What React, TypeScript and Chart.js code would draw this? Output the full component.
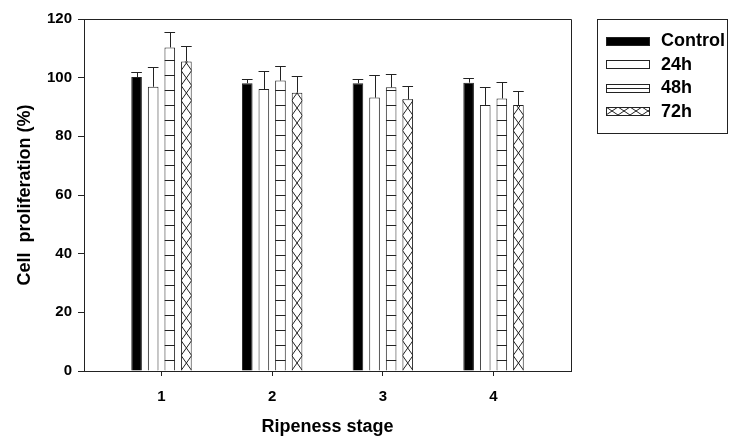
import React, { useEffect, useRef } from "react";
import { Chart, registerables } from "chart.js";

Chart.register(...registerables);

const stageLabels = ["1", "2", "3", "4"];
const stageX = [1, 2, 3, 4];
const seriesNames = ["Control", "24h", "48h", "72h"];
const controlMean = [100.2, 98.1, 98.1, 98.3];
const controlErr = [1.6, 1.4, 1.4, 1.5];
const h24Mean = [96.9, 96.1, 93.2, 90.7];
const h24Err = [6.8, 6.3, 7.7, 6.2];
const h48Mean = [110.3, 99.0, 96.7, 92.9];
const h48Err = [5.4, 4.9, 4.5, 5.7];
const h72Mean = [105.5, 94.9, 92.6, 90.7];
const h72Err = [5.4, 5.8, 4.7, 4.8];
const yTicks = [0, 20, 40, 60, 80, 100, 120];

const means = [controlMean, h24Mean, h48Mean, h72Mean];
const errs = [controlErr, h24Err, h48Err, h72Err];
const kinds = ["solid", "open", "hlines", "cross"];

const FONT = '"Liberation Sans", Arial, sans-serif';
const INK = "#222";

function drawFill(ctx: CanvasRenderingContext2D, kind: string, l: number, t: number, w: number, h: number, legend: boolean) {
  const r = l + w;
  const b = t + h;
  ctx.save();
  ctx.beginPath();
  ctx.rect(l, t, w, h);
  ctx.clip();
  ctx.strokeStyle = INK;
  ctx.lineWidth = 1;
  if (kind === "hlines") {
    ctx.beginPath();
    if (legend) {
      const ym = Math.round(t + h / 2) + 0.5;
      ctx.moveTo(l, ym);
      ctx.lineTo(r, ym);
    } else {
      for (let y = b - 11; y > t; y -= 15) {
        const yy = Math.round(y) + 0.5;
        ctx.moveTo(l, yy);
        ctx.lineTo(r, yy);
      }
    }
    ctx.stroke();
  } else if (kind === "cross") {
    ctx.beginPath();
    if (legend) {
      const tw = 12;
      for (let x = l; x < r; x += tw) {
        ctx.moveTo(x, t);
        ctx.lineTo(x + tw, b);
        ctx.moveTo(x + tw, t);
        ctx.lineTo(x, b);
      }
    } else {
      const th = 15;
      for (let y = b; y > t - th; y -= th) {
        ctx.moveTo(l, y);
        ctx.lineTo(r, y - th);
        ctx.moveTo(r, y);
        ctx.lineTo(l, y - th);
      }
    }
    ctx.stroke();
  }
  ctx.restore();
}

const overlayPlugin = {
  id: "overlay",
  afterDatasetsDraw(chart: any) {
    const ctx = chart.ctx as CanvasRenderingContext2D;
    const yScale = chart.scales.y;
    chart.data.datasets.forEach((ds: any, di: number) => {
      const meta = chart.getDatasetMeta(di);
      meta.data.forEach((bar: any, i: number) => {
        const { x, y, base, width } = bar.getProps(["x", "y", "base", "width"], true);
        const l = x - width / 2;
        drawFill(ctx, kinds[di], l, y, width, base - y, false);
        // error bar (upper)
        const top = yScale.getPixelForValue(means[di][i] + errs[di][i]);
        const cx = Math.round(x) + 0.5;
        const ty = Math.round(top) + 0.5;
        ctx.save();
        ctx.strokeStyle = INK;
        ctx.lineWidth = 1;
        ctx.beginPath();
        ctx.moveTo(cx, y);
        ctx.lineTo(cx, ty);
        ctx.moveTo(l, ty);
        ctx.lineTo(l + width, ty);
        ctx.stroke();
        ctx.restore();
      });
    });
  },
  afterDraw(chart: any) {
    const ctx = chart.ctx as CanvasRenderingContext2D;
    const a = chart.chartArea;
    ctx.save();
    ctx.strokeStyle = INK;
    ctx.lineWidth = 1;
    // frame top & right
    ctx.beginPath();
    ctx.moveTo(Math.round(a.left), Math.round(a.top) + 0.5);
    ctx.lineTo(Math.round(a.right) + 0.5, Math.round(a.top) + 0.5);
    ctx.lineTo(Math.round(a.right) + 0.5, Math.round(a.bottom));
    ctx.stroke();
    // legend box
    const bx = a.right + 26;
    const by = a.top;
    ctx.strokeRect(bx + 0.5, by + 0.5, 130, 114);
    ctx.font = "bold 18px " + FONT;
    ctx.textBaseline = "middle";
    ctx.fillStyle = "#000";
    chart.data.datasets.forEach((ds: any, di: number) => {
      const cy = by + 21.5 + di * 23.5;
      const sl = bx + 9;
      const st = Math.round(cy - 4);
      const sw = 43;
      const sh = 8;
      ctx.fillStyle = di === 0 ? "#000" : "#fff";
      ctx.fillRect(sl, st, sw, sh);
      drawFill(ctx, kinds[di], sl, st, sw, sh, true);
      ctx.strokeStyle = INK;
      ctx.strokeRect(sl + 0.5, st + 0.5, sw, sh);
      ctx.fillStyle = "#000";
      ctx.fillText(ds.label, bx + 64, cy + 1);
    });
    ctx.restore();
  },
};

export default function App() {
  const ref = useRef<HTMLCanvasElement | null>(null);
  useEffect(() => {
    document.body.style.margin = "0";
    const canvas = ref.current;
    if (!canvas) return;
    const datasets = seriesNames.map((name, di) => ({
      label: name,
      data: stageX.map((x, i) => ({ x, y: means[di][i] })),
      backgroundColor: di === 0 ? "#000" : "#fff",
      borderColor: INK,
      borderWidth: 1,
      categoryPercentage: 0.6,
      barPercentage: 0.64,
    }));
    const chart = new Chart(canvas, {
      type: "bar",
      data: { datasets },
      plugins: [overlayPlugin],
      options: {
        animation: false,
        responsive: true,
        maintainAspectRatio: false,
        layout: { padding: { top: 19, right: 161, left: 0, bottom: 0 } },
        plugins: { legend: { display: false }, tooltip: { enabled: false } },
        scales: {
          x: {
            type: "linear",
            min: 0.3,
            max: 4.7,
            offset: false,
            afterBuildTicks: (scale: any) => {
              scale.ticks = stageX.map((v) => ({ value: v }));
            },
            afterFit: (scale: any) => {
              scale.height = 65;
            },
            grid: { drawOnChartArea: false, offset: false, tickLength: 5, color: INK },
            border: { color: INK },
            ticks: {
              color: "#000",
              padding: 12,
              font: { family: FONT, size: 15, weight: "bold" },
              callback: (v: any) => stageLabels[stageX.indexOf(Number(v))] ?? "",
            },
            title: {
              display: true,
              text: "Ripeness stage",
              color: "#000",
              font: { family: FONT, size: 18, weight: "bold" },
              padding: { top: 0, bottom: -2 },
            },
          },
          y: {
            min: 0,
            max: 120,
            afterBuildTicks: (scale: any) => {
              scale.ticks = yTicks.map((v) => ({ value: v }));
            },
            afterFit: (scale: any) => {
              scale.width = 84;
            },
            grid: { drawOnChartArea: false, tickLength: 6, color: INK },
            border: { color: INK },
            ticks: {
              color: "#000",
              padding: 6,
              font: { family: FONT, size: 15, weight: "bold" },
            },
            title: {
              display: true,
              text: "Cell  proliferation (%)",
              color: "#000",
              font: { family: FONT, size: 18, weight: "bold" },
              padding: { top: 14, bottom: 0 },
            },
          },
        },
      },
    } as any);
    return () => chart.destroy();
  }, []);
  return (
    <div style={{ width: 732, height: 436, position: "relative" }}>
      <canvas ref={ref} />
    </div>
  );
}
